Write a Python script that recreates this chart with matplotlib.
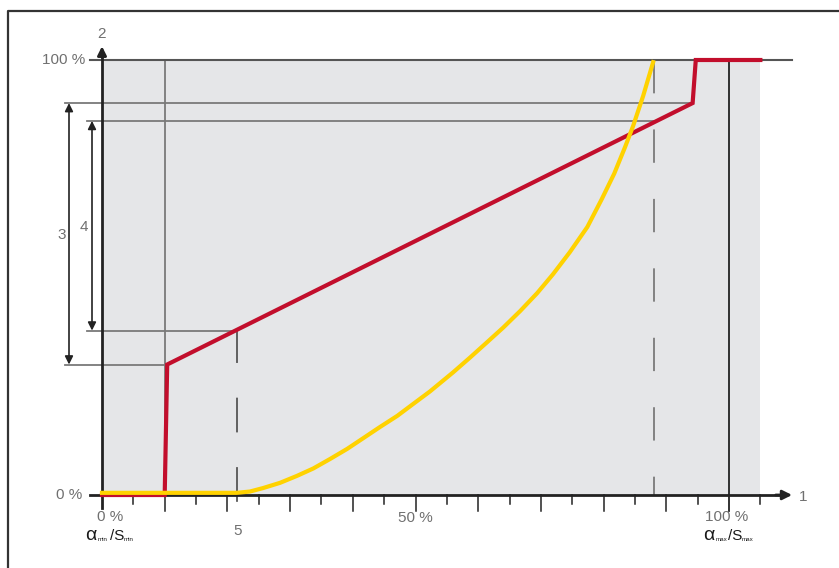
import matplotlib.pyplot as plt
from matplotlib.patches import Rectangle

plt.rcParams['lines.scale_dashes'] = False
plt.rcParams['font.family'] = ['Liberation Sans', 'DejaVu Sans']

# control characteristic (red), in % of range
red_x = [0, 10, 10.4, 94.2, 94.7, 105]
red_y = [0, 0, 30, 90.1, 100, 100]

# valve / flow curve (yellow)
yel_x = [0, 21.5, 23.6, 25.7, 28.4, 31.1, 33.7, 36.4, 39.1, 41.6, 44.3,
         47.1, 49.6, 52.3, 56.0, 58.7, 61.4, 64.0, 66.7, 69.4, 71.9, 74.6,
         77.4, 79.7, 81.7, 83.4, 84.7, 86.3, 87.9]
yel_y = [0.5, 0.5, 0.8, 1.6, 2.8, 4.4, 6.1, 8.3, 10.6, 13.0, 15.6,
         18.2, 20.9, 23.8, 28.2, 31.6, 35.1, 38.5, 42.3, 46.4, 50.7, 55.8,
         61.6, 68.0, 73.9, 79.9, 84.8, 91.7, 99.5]

x_min_pt = 21.6      # point "5"
x_max_pt = 88.0      # dashed line near max
y_lo3, y_hi3 = 30.0, 90.1
y_lo4, y_hi4 = 37.8, 86.0

minor_ticks = [5, 15, 25, 35, 45, 55, 65, 75, 85, 95, 105]
major_ticks = [10, 20, 30, 40, 50, 60, 70, 80, 90]

RED = '#c20e2c'
YEL = '#ffd200'
GRAY = '#7a7a7a'
DARK = '#222222'
TXT = '#707070'

fig = plt.figure(figsize=(8.39, 5.68), dpi=100)
ax = fig.add_axes([0, 0, 1, 1])
sx, sy = 6.27, 4.35   # pixels per percent
ax.set_xlim(-102 / sx, (839 - 102) / sx)
ax.set_ylim(-(568 - 495) / sy, 495 / sy)
ax.axis('off')


def px(x, y):
    # pixel position of the reference -> data units
    return (x - 102) / sx, (495 - y) / sy


# outer frame
ax.plot([-94 / sx, -94 / sx, 120], [-20, 484 / sy, 484 / sy], color='#333333', lw=1.6)

# shaded area
ax.add_patch(Rectangle((0, 0), 105, 100, facecolor='#e5e6e8', edgecolor='none', zorder=0))

# guide lines
ax.plot([10, 10], [0, 100], color=GRAY, lw=1.3)
ax.plot([100, 100], [0, 100], color=DARK, lw=1.3)
ax.plot([-12 / sx, 110], [100, 100], color='#555555', lw=1.5)
ax.plot([-37 / sx, 94.2], [y_hi3, y_hi3], color=GRAY, lw=1.3)
ax.plot([-15 / sx, x_max_pt], [y_hi4, y_hi4], color=GRAY, lw=1.3)
ax.plot([-15 / sx, x_min_pt], [y_lo4, y_lo4], color=GRAY, lw=1.3)
ax.plot([-37 / sx, 10.4], [y_lo3, y_lo3], color=GRAY, lw=1.3)
ax.plot([x_min_pt, x_min_pt], [y_lo4, -4.8], color='#555555', lw=1.3,
        linestyle=(2, (25, 25)))
ax.plot([x_max_pt, x_max_pt], [100, 0], color=GRAY, lw=1.3,
        linestyle=(0, (24, 26)))

# axes with arrows
ax.plot([-12 / sx, 108], [0, 0], color=DARK, lw=2)
ax.annotate('', xy=(110.5, 0), xytext=(107, 0),
            arrowprops=dict(arrowstyle='-|>', color=DARK, lw=2, mutation_scale=14))
ax.plot([0, 0], [-13 / sy, 101], color=DARK, lw=2)
ax.annotate('', xy=(0, 103.8), xytext=(0, 100),
            arrowprops=dict(arrowstyle='-|>', color=DARK, lw=2, mutation_scale=13))
for t in minor_ticks:
    ax.plot([t, t], [0, -2.1], color=DARK, lw=1.1)
for t in major_ticks:
    ax.plot([t, t], [0, -3.7], color=DARK, lw=1.1)
ax.plot([100, 100], [0, -3.7], color=DARK, lw=1.3)

# range arrows 3 and 4
x3 = (69 - 102) / sx
x4 = (92 - 102) / sx
for xa, lo, hi in [(x3, y_lo3, y_hi3), (x4, y_lo4, y_hi4)]:
    ax.annotate('', xy=(xa, lo), xytext=(xa, hi),
                arrowprops=dict(arrowstyle='<|-|>', color=DARK, lw=1.2,
                                mutation_scale=12, shrinkA=0, shrinkB=0))

# curves
ax.plot(red_x, red_y, color=RED, lw=3, solid_joinstyle='miter', zorder=4)
ax.plot(yel_x, yel_y, color=YEL, lw=3, solid_joinstyle='round', zorder=5)

# labels
fs = 11
ax.text(-2.6, 100, '100 %', ha='right', va='center', color=TXT, fontsize=fs)
ax.text(-3.1, 0, '0 %', ha='right', va='center', color=TXT, fontsize=fs)
ax.text(*px(102, 34), '2', ha='center', va='center', color=TXT, fontsize=fs)
ax.text(*px(803, 497), '1', ha='center', va='center', color=TXT, fontsize=fs)
ax.text(*px(62, 235), '3', ha='center', va='center', color=TXT, fontsize=fs)
ax.text(*px(84, 227), '4', ha='center', va='center', color=TXT, fontsize=fs)
ax.text(*px(110, 517), '0 %', ha='center', va='center', color=TXT, fontsize=fs)
ax.text(x_min_pt, px(0, 531)[1], '5', ha='center', va='center', color=TXT, fontsize=fs)
ax.text(50, px(0, 518)[1], '50 %', ha='center', va='center', color=TXT, fontsize=fs)
ax.text(*px(727, 517), '100 %', ha='center', va='center', color=TXT, fontsize=fs)

# alpha_min / s_min and alpha_max / s_max
for x0, sub in [(85, 'min'), (703, 'max')]:
    ax.text(*px(x0, 540), 'α', ha='left', va='baseline', color='#1a1a1a', fontsize=14)
    ax.text(*px(x0 + 13, 541), sub, ha='left', va='baseline', color='#1a1a1a', fontsize=4.5)
    ax.text(*px(x0 + 25, 540), '/S', ha='left', va='baseline', color='#1a1a1a', fontsize=11)
    ax.text(*px(x0 + 39, 541), sub, ha='left', va='baseline', color='#1a1a1a', fontsize=4.5)

fig.savefig('out.png', dpi=100)
